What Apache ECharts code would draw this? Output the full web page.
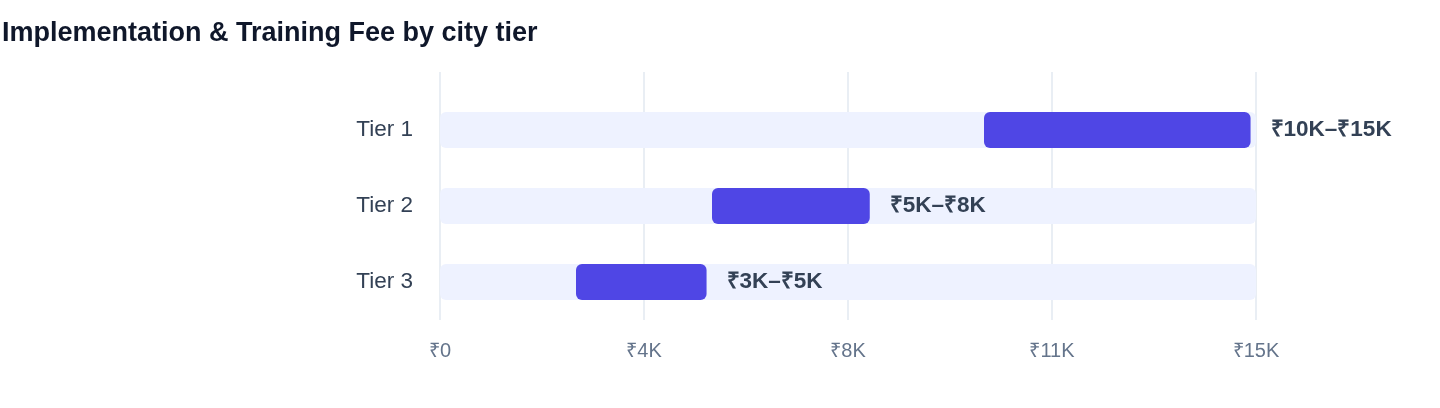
<!DOCTYPE html>
<html>
<head>
<meta charset="utf-8">
<script src="https://cdn.jsdelivr.net/npm/echarts@6/dist/echarts.min.js"></script>
<style>
  html, body { margin: 0; padding: 0; background: #fff; }
  #chart { width: 1440px; height: 408px; }
</style>
</head>
<body>
<div id="chart"></div>
<script>
const categories = ['Tier 1', 'Tier 2', 'Tier 3'];
const rangeStart = [10000, 5000, 2500];
const rangeEnd = [14900, 7900, 4900];
const rangeLabels = ['₹10K–₹15K', '₹5K–₹8K', '₹3K–₹5K'];
const axisMax = 15000;
const axisInterval = 3750;
const tickLabels = ['₹0', '₹4K', '₹8K', '₹11K', '₹15K'];

const FONT = '"Liberation Sans", Arial, Helvetica, sans-serif';
const chart = echarts.init(document.getElementById('chart'));

chart.setOption({
  animation: false,
  title: {
    text: 'Implementation & Training Fee by city tier',
    left: -3,
    top: 15,
    textStyle: { fontFamily: FONT, fontSize: 27, fontWeight: 'bold', color: '#0F172A' }
  },
  grid: [
    { left: 440, right: 184, top: 72, bottom: 88, containLabel: false },
    { left: 440, right: 184, top: 92, bottom: 88, containLabel: false }
  ],
  xAxis: [
    {
      gridIndex: 0, type: 'value', min: 0, max: axisMax, interval: axisInterval,
      axisLine: { show: false }, axisTick: { show: false },
      splitLine: { show: true, lineStyle: { color: '#E2E8F0', width: 1.5 } },
      axisLabel: {
        margin: 21, fontFamily: FONT, fontSize: 20, color: '#64748B',
        formatter: (v) => tickLabels[Math.round(v / axisInterval)]
      }
    },
    {
      gridIndex: 1, type: 'value', min: 0, max: axisMax, interval: axisInterval,
      show: false, splitLine: { show: false }
    }
  ],
  yAxis: [
    { gridIndex: 0, type: 'value', min: 0, max: 1, show: false, splitLine: { show: false } },
    {
      gridIndex: 1, type: 'category', data: categories, inverse: true,
      axisLine: { show: false }, axisTick: { show: false },
      axisLabel: { margin: 27, fontFamily: FONT, fontSize: 22.5, color: '#334155' }
    }
  ],
  series: [
    {
      type: 'bar', xAxisIndex: 1, yAxisIndex: 1, stack: 'range',
      data: rangeStart, barWidth: 36,
      itemStyle: { color: 'transparent' },
      showBackground: true,
      backgroundStyle: { color: '#EEF2FF', borderRadius: 6 },
      silent: true
    },
    {
      type: 'bar', xAxisIndex: 1, yAxisIndex: 1, stack: 'range',
      data: rangeEnd.map((e, i) => e - rangeStart[i]), barWidth: 36,
      itemStyle: { color: '#4F46E5', borderRadius: 6 },
      label: {
        show: true, position: 'right', distance: 20,
        fontFamily: FONT, fontSize: 22.5, fontWeight: 'bold', color: '#334155',
        formatter: (p) => rangeLabels[p.dataIndex]
      }
    }
  ]
});
</script>
</body>
</html>
